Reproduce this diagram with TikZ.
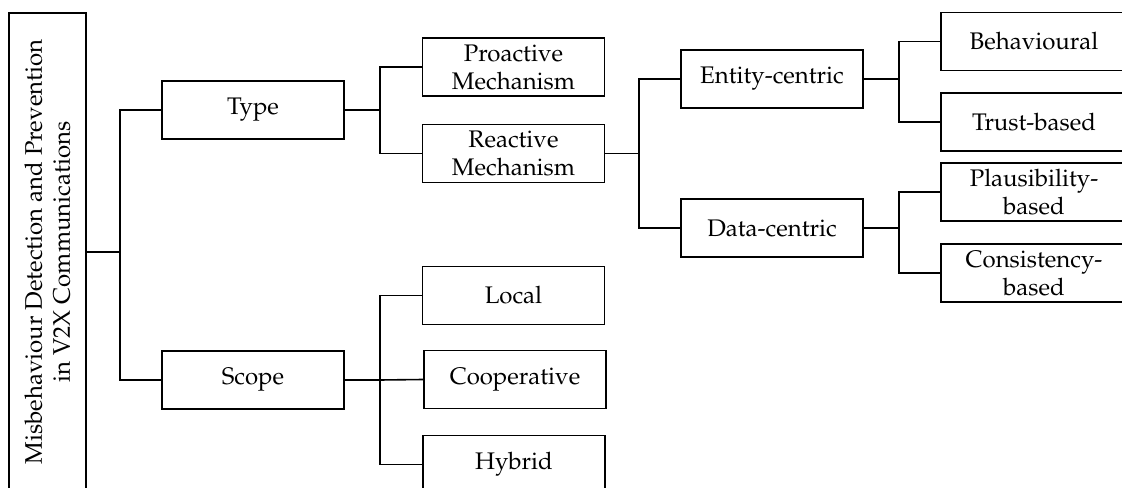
\documentclass[tikz,border=0pt]{standalone}
\usepackage[T1]{fontenc}
\usepackage{mathpazo}
\begin{document}
\begin{tikzpicture}[x=0.75pt,y=-0.75pt,
  line width=1.2pt,
  box/.style={draw, line width=1.2pt, minimum width=136.5pt, minimum height=43.5pt,
    inner sep=1pt, align=center, font=\fontsize{18}{21}\selectfont},
  wide/.style={box, minimum width=139.5pt},
  link/.style={draw, line width=1.2pt}]
\useasboundingbox (0,0) rectangle (1122,488);
\clip (0,0) rectangle (1122,488);

% root
\node[draw, line width=1.2pt, rotate=90, minimum width=358.5pt, minimum height=58pt,
  inner sep=0pt, align=center, font=\fontsize{18}{21}\selectfont]
  (root) at (47.5,252) {Misbehaviour Detection and Prevention\\in V2X Communications};

% level 1
\node[box] (type)  at (253,110) {Type};
\node[box] (scope) at (253,380) {Scope};

% level 2
\node[box] (pro)   at (513.5,67)    {Proactive\\Mechanism};
\node[box] (rea)   at (513.5,153.5) {Reactive\\Mechanism};
\node[box] (local) at (513.5,295.5) {Local};
\node[box] (coop)  at (515,379.5)   {Cooperative};
\node[box] (hyb)   at (514,464.5)   {Hybrid};

% level 3
\node[box] (ent)  at (772,79)  {Entity-centric};
\node[box] (data) at (772,228) {Data-centric};

% level 4
\node[wide] (beh)   at (1034,41.5) {Behavioural};
\node[wide] (trust) at (1034,122)  {Trust-based};
\node[wide] (plaus) at (1034,192)  {Plausibility-\\based};
\node[wide] (cons)  at (1034,273)  {Consistency-\\based};

% branch columns
\coordinate (c0) at (120,0);
\coordinate (c1) at (380,0);
\coordinate (c2) at (639,0);
\coordinate (c3) at (899,0);

% connectors
\draw[link] (root.south) -- (root.south -| c0);
\draw[link] (type.west) -| (c0 |- root.south) |- (scope.west);

\draw[link] (type.east) -- (type.east -| c1);
\draw[link] (pro.west) -| (c1 |- type.east) |- (rea.west);

\draw[link] (scope.east) -- (scope.east -| c1);
\draw[link] (local.west) -| (c1 |- scope.east) |- (hyb.west);
\draw[link] (c1 |- scope.east) -- (coop.west);

\draw[link] (rea.east) -- (rea.east -| c2);
\draw[link] (ent.west) -| (c2 |- rea.east) |- (data.west);

\draw[link] (ent.east) -- (ent.east -| c3);
\draw[link] (beh.west) -| (c3 |- ent.east) |- (trust.west);

\draw[link] (data.east) -- (data.east -| c3);
\draw[link] (plaus.west) -| (c3 |- data.east) |- (cons.west);
\end{tikzpicture}
\end{document}
